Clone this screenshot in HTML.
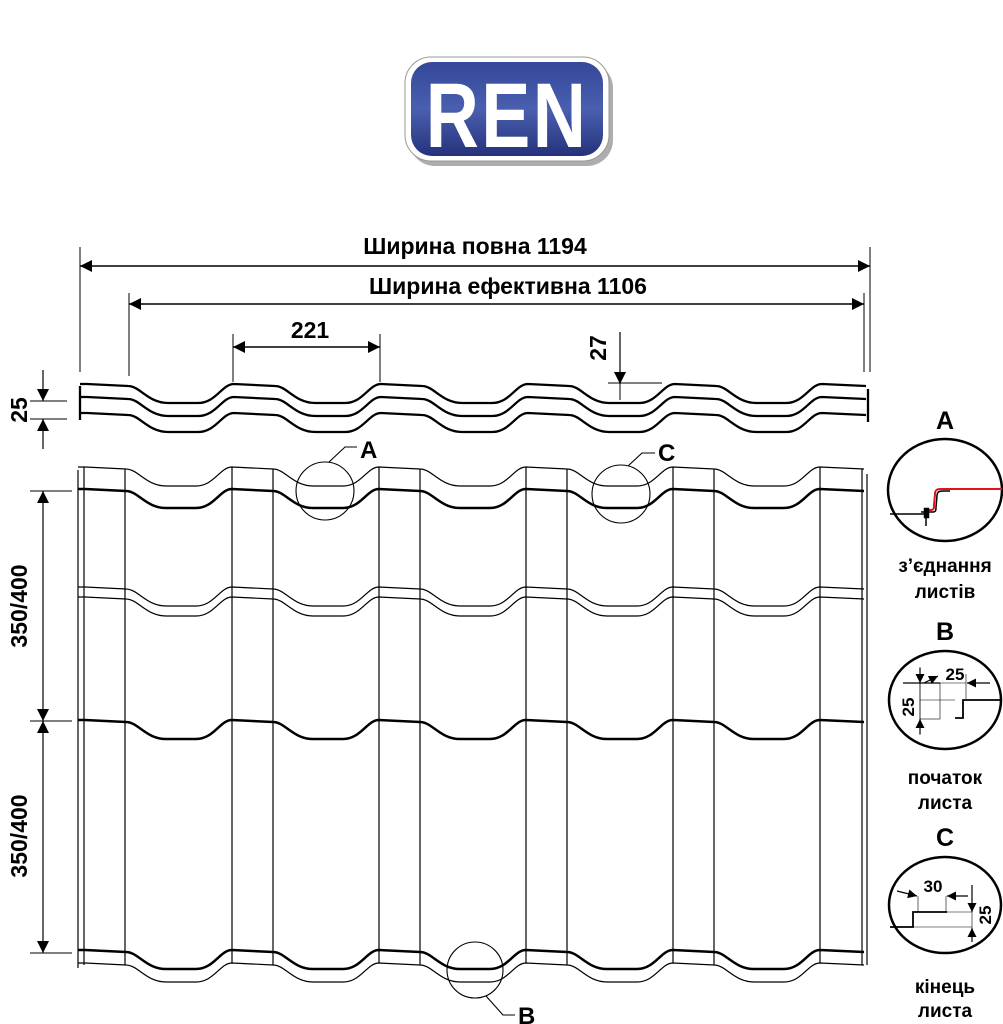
<!DOCTYPE html>
<html><head><meta charset="utf-8">
<style>
html,body{margin:0;padding:0;background:#fff;}
svg{display:block;}
text{font-family:"Liberation Sans",Arial,sans-serif;font-weight:bold;fill:#000;}
</style></head><body>
<svg width="1003" height="1024" viewBox="0 0 1003 1024" xmlns="http://www.w3.org/2000/svg">
<defs>
<path id="w" fill="none" d="M78,0 L85,0 l41,2 c12,0 20,17 40,17 l30,0 c18,0 24,-19 36,-19 l41,2 c12,0 20,17 40,17 l30,0 c18,0 24,-19 36,-19 l41,2 c12,0 20,17 40,17 l30,0 c18,0 24,-19 36,-19 l41,2 c12,0 20,17 40,17 l30,0 c18,0 24,-19 36,-19 l41,2 c12,0 20,17 40,17 l30,0 c18,0 24,-19 36,-19 l44,2"/>
<marker id="ar" viewBox="0 0 10 10" refX="10" refY="5" markerWidth="18" markerHeight="12" orient="auto-start-reverse" markerUnits="userSpaceOnUse"><path d="M0,0 L10,5 L0,10 Z" fill="#000"/></marker>
<marker id="as" viewBox="0 0 10 10" refX="10" refY="5" markerWidth="13" markerHeight="9" orient="auto-start-reverse" markerUnits="userSpaceOnUse"><path d="M0,0 L10,5 L0,10 Z" fill="#000"/></marker>
<linearGradient id="lg" x1="0" y1="0" x2="0" y2="1"><stop offset="0" stop-color="#34479a"/><stop offset="0.5" stop-color="#4a5fb0"/><stop offset="1" stop-color="#25327a"/></linearGradient>
</defs>

<!-- logo -->
<rect x="409" y="62" width="204" height="104" rx="26" fill="#777" opacity="0.6"/>
<rect x="405" y="57" width="204" height="104" rx="26" fill="#fff" stroke="#999" stroke-width="1"/>
<rect x="411" y="62" width="192" height="94" rx="21" fill="url(#lg)"/>
<text x="507" y="147" text-anchor="middle" font-size="92" style="fill:#fff" transform="translate(507,0) scale(0.8,1) translate(-507,0)" letter-spacing="3">REN</text>

<!-- dimension lines -->
<g stroke="#000" stroke-width="1" fill="none">
<line x1="80" y1="247" x2="80" y2="372"/><line x1="870" y1="247" x2="870" y2="372"/>
<line x1="129" y1="293" x2="129" y2="376"/><line x1="864" y1="293" x2="864" y2="372"/>
<line x1="233" y1="334" x2="233" y2="382"/><line x1="380" y1="334" x2="380" y2="382"/>
<line x1="80" y1="266" x2="870" y2="266" stroke-width="1.5" marker-start="url(#ar)" marker-end="url(#ar)"/>
<line x1="129" y1="304" x2="864" y2="304" stroke-width="1.5" marker-start="url(#ar)" marker-end="url(#ar)"/>
<line x1="233" y1="347" x2="380" y2="347" stroke-width="1.5" marker-start="url(#ar)" marker-end="url(#ar)"/>
<line x1="620" y1="332" x2="620" y2="384" stroke-width="1.2" marker-end="url(#ar)"/>
<line x1="608" y1="383" x2="662" y2="383"/>
<line x1="620" y1="384" x2="620" y2="400"/>
<line x1="30" y1="401" x2="67" y2="401"/><line x1="30" y1="419" x2="67" y2="419"/>
<line x1="43" y1="370" x2="43" y2="401" stroke-width="1.2" marker-end="url(#ar)"/>
<line x1="43" y1="449" x2="43" y2="419" stroke-width="1.2" marker-end="url(#ar)"/>
<line x1="30" y1="491" x2="72" y2="491"/><line x1="30" y1="721" x2="72" y2="721"/><line x1="30" y1="953" x2="72" y2="953"/>
<line x1="43" y1="491" x2="43" y2="721" stroke-width="1.2" marker-start="url(#ar)" marker-end="url(#ar)"/>
<line x1="43" y1="721" x2="43" y2="953" stroke-width="1.2" marker-start="url(#ar)" marker-end="url(#ar)"/>
</g>
<text x="475" y="254" text-anchor="middle" font-size="23">Ширина повна 1194</text>
<text x="508" y="294" text-anchor="middle" font-size="23">Ширина ефективна 1106</text>
<text x="310" y="338" text-anchor="middle" font-size="23">221</text>
<text transform="translate(606,348) rotate(-90)" font-size="23" text-anchor="middle">27</text>
<text transform="translate(27,410) rotate(-90)" font-size="23" text-anchor="middle">25</text>
<text transform="translate(27,606) rotate(-90)" font-size="23" text-anchor="middle">350/400</text>
<text transform="translate(27,836) rotate(-90)" font-size="23" text-anchor="middle">350/400</text>

<!-- top profile -->
<g stroke="#000" stroke-width="2.3" fill="none">
<use href="#w" transform="translate(2,384)"/>
<use href="#w" transform="translate(2,397)"/>
<use href="#w" transform="translate(2,413)"/>
<line x1="80" y1="386" x2="80" y2="420"/>
<line x1="868" y1="389" x2="868" y2="422"/>
</g>

<!-- main sheet -->
<g stroke="#000" fill="none">
<g stroke-width="1.2">
<use href="#w" transform="translate(0,467)"/>
<use href="#w" transform="translate(0,587)"/>
<use href="#w" transform="translate(0,597)"/>
<use href="#w" transform="translate(0,963)"/>
<line x1="78" y1="470" x2="78" y2="968"/>
<line x1="84" y1="467" x2="84" y2="965"/>
<line x1="125" y1="469" x2="125" y2="965"/>
<line x1="232" y1="467" x2="232" y2="963"/>
<line x1="273" y1="469" x2="273" y2="965"/>
<line x1="379" y1="467" x2="379" y2="963"/>
<line x1="420" y1="469" x2="420" y2="965"/>
<line x1="526" y1="467" x2="526" y2="963"/>
<line x1="567" y1="469" x2="567" y2="965"/>
<line x1="673" y1="467" x2="673" y2="963"/>
<line x1="714" y1="469" x2="714" y2="965"/>
<line x1="820" y1="467" x2="820" y2="963"/>
<line x1="862" y1="469" x2="862" y2="965"/>
<line x1="867" y1="474" x2="867" y2="965"/>
</g>
<g stroke-width="2.5">
<use href="#w" transform="translate(0,489)"/>
<use href="#w" transform="translate(0,720)"/>
<use href="#w" transform="translate(0,950)"/>
</g>
<g stroke-width="1.1">
<circle cx="325" cy="491" r="29"/>
<polyline points="329,462 345,447 357,447"/>
<circle cx="621" cy="494" r="29"/>
<polyline points="628,466 642,453 655,453"/>
<circle cx="475" cy="970" r="28"/>
<polyline points="486,996 503,1015 515,1015"/>
</g>
</g>
<text x="360" y="458" font-size="24">A</text>
<text x="658" y="461" font-size="24">C</text>
<text x="518" y="1024" font-size="24">B</text>

<!-- right detail panel -->
<g fill="none" stroke="#000">
<ellipse cx="945" cy="490" rx="57" ry="51" stroke-width="2.5"/>
<ellipse cx="945" cy="700" rx="56" ry="49" stroke-width="2.5"/>
<ellipse cx="945" cy="905" rx="56" ry="48" stroke-width="2.5"/>
<polyline points="890,514 925,514" stroke-width="1.5"/>
<path d="M921,512 L933,512 C936,512 936,510 936,507 L937,496 C937,492 939,491 943,491 L950,491" stroke-width="1.5"/>
<path d="M925,510 L931,510 C934,510 934,508 934,505 L935,494 C935,490 937,489 941,489 L1002,489" stroke="#e0141e" stroke-width="2"/>
<rect x="924" y="508" width="5" height="10" fill="#000" stroke-width="0.5"/>
<line x1="926" y1="518" x2="926" y2="526" stroke-width="1.5"/>
<path d="M955,718 L963,718 L963,700 L1000,700" stroke-width="1.8"/>
<g stroke-width="0.6"><rect x="920" y="683" width="20" height="36"/><line x1="920" y1="700" x2="955" y2="700"/><line x1="940" y1="683" x2="966" y2="683"/><line x1="966" y1="674" x2="966" y2="699"/><line x1="920" y1="667" x2="920" y2="735"/></g>
<line x1="903" y1="683" x2="940" y2="683" stroke-width="1.2"/>
<line x1="924" y1="683" x2="938" y2="676" stroke-width="1.2" marker-end="url(#as)"/>
<line x1="990" y1="683" x2="967" y2="683" stroke-width="1.2" marker-end="url(#as)"/>
<line x1="920" y1="668" x2="920" y2="683" stroke-width="1.2" marker-end="url(#as)"/>
<line x1="920" y1="734" x2="920" y2="719" stroke-width="1.2" marker-end="url(#as)"/>
<path d="M890,927 L913,927 L913,912 L947,912" stroke-width="1.8"/>
<g stroke-width="0.6"><line x1="918" y1="896" x2="918" y2="912"/><line x1="946" y1="896" x2="946" y2="912"/><line x1="946" y1="912" x2="972" y2="912"/><line x1="913" y1="927" x2="972" y2="927"/><line x1="972" y1="890" x2="972" y2="940"/></g>
<line x1="897" y1="891" x2="917" y2="896" stroke-width="1.2" marker-end="url(#as)"/>
<line x1="968" y1="896" x2="947" y2="896" stroke-width="1.2" marker-end="url(#as)"/>
<line x1="972" y1="885" x2="972" y2="912" stroke-width="1.2" marker-end="url(#as)"/>
<line x1="972" y1="942" x2="972" y2="928" stroke-width="1.2" marker-end="url(#as)"/>
</g>
<text x="945" y="429" text-anchor="middle" font-size="25">A</text>
<text x="945" y="572" text-anchor="middle" font-size="19">з’єднання</text>
<text x="945" y="598" text-anchor="middle" font-size="19">листів</text>
<text x="945" y="640" text-anchor="middle" font-size="25">B</text>
<text x="955" y="680" text-anchor="middle" font-size="17">25</text>
<text transform="translate(914,707) rotate(-90)" text-anchor="middle" font-size="17">25</text>
<text x="945" y="784" text-anchor="middle" font-size="19">початок</text>
<text x="945" y="809" text-anchor="middle" font-size="19">листа</text>
<text x="945" y="846" text-anchor="middle" font-size="25">C</text>
<text x="933" y="892" text-anchor="middle" font-size="17">30</text>
<text transform="translate(991,915) rotate(-90)" text-anchor="middle" font-size="17">25</text>
<text x="945" y="993" text-anchor="middle" font-size="19">кінець</text>
<text x="945" y="1017" text-anchor="middle" font-size="19">листа</text>
</svg>
</body></html>
